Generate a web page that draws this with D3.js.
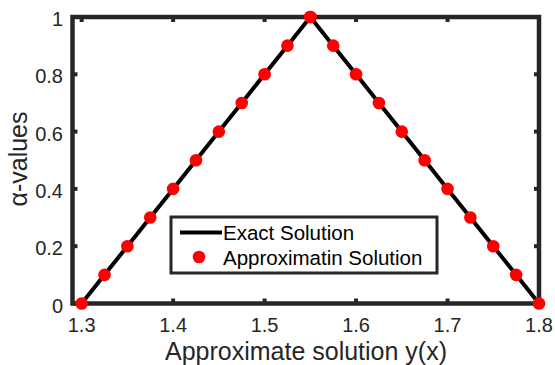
<!DOCTYPE html>
<html>
<head>
<meta charset="utf-8">
<script src="https://cdn.jsdelivr.net/npm/d3@7"></script>
<style>
  body { margin: 0; background: #fff; }
  text { font-family: "Liberation Sans", Arial, sans-serif; fill: #262626; }
</style>
</head>
<body>
<svg id="chart" width="555" height="365"></svg>
<script>
// alpha levels and the two branches of the fuzzy solution
var alphas = [0, 0.1, 0.2, 0.3, 0.4, 0.5, 0.6, 0.7, 0.8, 0.9, 1];
var leftX = [1.3, 1.325, 1.35, 1.375, 1.4, 1.425, 1.45, 1.475, 1.5, 1.525, 1.55];
var rightX = [1.8, 1.775, 1.75, 1.725, 1.7, 1.675, 1.65, 1.625, 1.6, 1.575, 1.55];
var xTicks = [1.3, 1.4, 1.5, 1.6, 1.7, 1.8];
var yTicks = [0, 0.2, 0.4, 0.6, 0.8, 1];
var xDomain = [1.29, 1.8];
var yDomain = [0, 1];

var LEFT = 72.5, RIGHT = 539, TOP = 17, BOTTOM = 303.5;
var AXIS_COLOR = '#262626';

var svg = d3.select('#chart');

var x = d3.scaleLinear().domain(xDomain).range([LEFT, RIGHT]);
var y = d3.scaleLinear().domain(yDomain).range([BOTTOM, TOP]);

// exact solution: left branch then right branch back down
var exact = leftX.map((d, i) => ({x: d, a: alphas[i]}))
  .concat(rightX.slice().reverse().slice(1).map((d, i) => ({x: d, a: alphas[alphas.length - 2 - i]})));

var line = d3.line().x(d => x(d.x)).y(d => y(d.a));

svg.append('path')
  .datum(exact)
  .attr('d', line)
  .attr('fill', 'none')
  .attr('stroke', '#000')
  .attr('stroke-width', 4);

// box + ticks
var tickLen = 5;
var g = svg.append('g');
g.selectAll('.xt').data(xTicks).enter().append('line')
  .attr('x1', d => x(d)).attr('x2', d => x(d))
  .attr('y1', BOTTOM).attr('y2', BOTTOM - tickLen)
  .attr('stroke', AXIS_COLOR).attr('stroke-width', 4);
g.selectAll('.xt2').data(xTicks).enter().append('line')
  .attr('x1', d => x(d)).attr('x2', d => x(d))
  .attr('y1', TOP).attr('y2', TOP + tickLen)
  .attr('stroke', AXIS_COLOR).attr('stroke-width', 4);
g.selectAll('.yt').data(yTicks).enter().append('line')
  .attr('x1', LEFT).attr('x2', LEFT + tickLen)
  .attr('y1', d => y(d)).attr('y2', d => y(d))
  .attr('stroke', AXIS_COLOR).attr('stroke-width', 4);
g.selectAll('.yt2').data(yTicks).enter().append('line')
  .attr('x1', RIGHT).attr('x2', RIGHT - tickLen)
  .attr('y1', d => y(d)).attr('y2', d => y(d))
  .attr('stroke', AXIS_COLOR).attr('stroke-width', 4);

g.append('rect')
  .attr('x', LEFT).attr('y', TOP)
  .attr('width', RIGHT - LEFT).attr('height', BOTTOM - TOP)
  .attr('fill', 'none')
  .attr('stroke', AXIS_COLOR)
  .attr('stroke-width', 4.5);

// approximate solution dots
var pts = leftX.map((d, i) => ({x: d, a: alphas[i]}))
  .concat(rightX.map((d, i) => ({x: d, a: alphas[i]})));
svg.selectAll('.dot').data(pts).enter().append('circle')
  .attr('cx', d => x(d.x))
  .attr('cy', d => y(d.a))
  .attr('r', 6.3)
  .attr('fill', '#ff0000');

// tick labels
svg.selectAll('.xl').data(xTicks).enter().append('text')
  .attr('x', d => x(d))
  .attr('y', 331.5)
  .attr('text-anchor', 'middle')
  .attr('font-size', 20)
  .text(d => d3.format('.1f')(d));

svg.selectAll('.yl').data(yTicks).enter().append('text')
  .attr('x', 63)
  .attr('y', d => y(d) + 9)
  .attr('text-anchor', 'end')
  .attr('font-size', 20)
  .text(d => d === 0 || d === 1 ? d : d3.format('.1f')(d));

// axis labels
svg.append('text')
  .attr('x', 306)
  .attr('y', 360)
  .attr('text-anchor', 'middle')
  .attr('font-size', 25)
  .text('Approximate solution y(x)');

svg.append('text')
  .attr('transform', 'translate(27,159) rotate(-90)')
  .attr('text-anchor', 'middle')
  .attr('font-size', 25)
  .text('α-values');

// legend
var lg = svg.append('g');
lg.append('rect')
  .attr('x', 171).attr('y', 217)
  .attr('width', 266).attr('height', 56)
  .attr('fill', '#fff')
  .attr('stroke', AXIS_COLOR)
  .attr('stroke-width', 3);
lg.append('line')
  .attr('x1', 180).attr('x2', 222)
  .attr('y1', 232.5).attr('y2', 232.5)
  .attr('stroke', '#000').attr('stroke-width', 4);
lg.append('text')
  .attr('x', 223).attr('y', 240)
  .attr('font-size', 20.5)
  .style('fill', '#000')
  .text('Exact Solution');
lg.append('circle')
  .attr('cx', 199).attr('cy', 257)
  .attr('r', 6.3)
  .attr('fill', '#ff0000');
lg.append('text')
  .attr('x', 223).attr('y', 265)
  .attr('font-size', 20.5)
  .style('fill', '#000')
  .text('Approximatin Solution');
</script>
</body>
</html>
